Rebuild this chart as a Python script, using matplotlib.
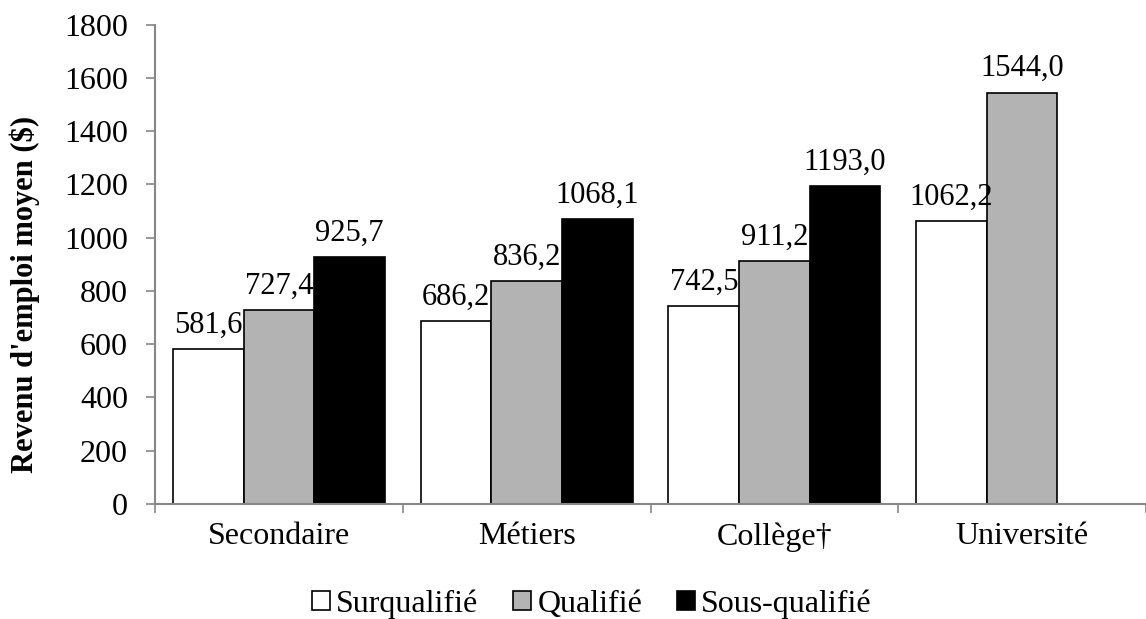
import numpy as np
import matplotlib.pyplot as plt

# Revenu d'emploi moyen par niveau de scolarité et statut de qualification
categories = ['Secondaire', 'Métiers', 'Collège†', 'Université']
series_names = ['Surqualifié', 'Qualifié', 'Sous-qualifié']
surqualifie = [581.6, 686.2, 742.5, 1062.2]
qualifie = [727.4, 836.2, 911.2, 1544.0]
sous_qualifie = [925.7, 1068.1, 1193.0, np.nan]
yticks = [0, 200, 400, 600, 800, 1000, 1200, 1400, 1600, 1800]

colors = ['white', '#b3b3b3', 'black']
axis_grey = '#868686'
fs = 23

plt.rcParams['font.family'] = ['Liberation Serif', 'DejaVu Serif']

fig = plt.figure(figsize=(11.46, 6.19), dpi=100)
ax = fig.add_axes([155 / 1146, 1 - 504 / 619, 1 - 155 / 1146, (504 - 24.5) / 619])

x = np.arange(len(categories))
w = 0.285
all_series = [surqualifie, qualifie, sous_qualifie]
for i, (name, vals) in enumerate(zip(series_names, all_series)):
    pos = x + (i - 1) * w
    ax.bar(pos, vals, width=w, color=colors[i], edgecolor='black', linewidth=1.2, label=name)
    for px, v in zip(pos, vals):
        if np.isnan(v):
            continue
        ax.annotate(f'{v:.1f}'.replace('.', ','), (px, v), xytext=(0, 12),
                    textcoords='offset points', ha='center', va='baseline', fontsize=22)

ax.set_xlim(-0.5, 3.46)
ax.set_ylim(0, 1800)
ax.set_yticks(yticks)
ax.set_xticks(x)
ax.set_xticklabels(categories)
ax.set_xticks(np.arange(-0.5, 4.0, 1.0), minor=True)
ax.tick_params(axis='x', which='major', length=0, pad=13, labelsize=fs)
ax.tick_params(axis='x', which='minor', length=6.5, width=1.2, color=axis_grey)
ax.tick_params(axis='y', length=6.5, width=1.2, color=axis_grey, pad=13, labelsize=fs)

for s in ['top', 'right']:
    ax.spines[s].set_visible(False)
for s in ['left', 'bottom']:
    ax.spines[s].set_color(axis_grey)
    ax.spines[s].set_linewidth(1.5)

ax.set_ylabel("Revenu d'emploi moyen ($)", fontsize=22, fontweight='bold')
ax.yaxis.set_label_coords(-0.116, 0.438)

fig.legend(loc='center', bbox_to_anchor=(592 / 1146, 1 - 604 / 619), ncol=3, frameon=False,
           fontsize=fs, handlelength=0.55, handleheight=0.55, handletextpad=0.2,
           columnspacing=1.1, borderpad=0)

fig.savefig('out.png', dpi=100)
